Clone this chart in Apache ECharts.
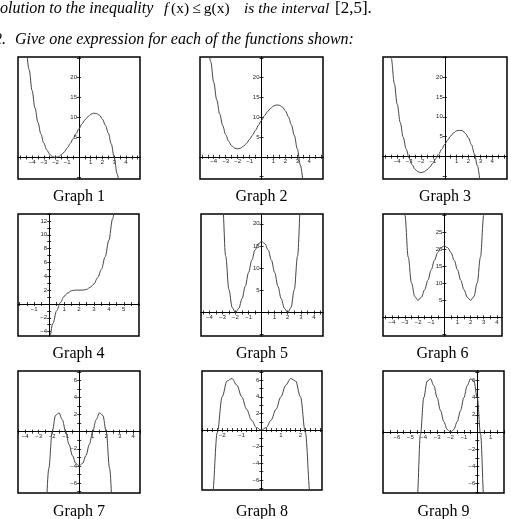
<!DOCTYPE html>
<html>
<head>
<meta charset="utf-8">
<script src="https://cdn.jsdelivr.net/npm/echarts@6/dist/echarts.min.js"></script>
<style>
  html, body { margin: 0; padding: 0; background: #fff; }
  #chart { width: 511px; height: 519px; }
</style>
</head>
<body>
<div id="chart"></div>
<script>
// curve points (x, y)
var g1x = [-4.5,-4.25,-4,-3.75,-3.5,-3.25,-3,-2.75,-2.5,-2.25,-2,-1.75,-1.5,-1.25,-1,-0.75,-0.5,-0.25,0,0.25,0.5,0.75,1,1.25,1.5,1.75,2,2.25,2.5,2.75,3,3.25,3.5];
var g1y = [28.1,22.0,16.8,12.4,8.8,5.9,3.6,1.9,0.8,0.2,0,0.2,0.7,1.4,2.4,3.5,4.7,6.0,7.2,8.4,9.4,10.2,10.8,11.1,11.0,10.6,9.6,8.1,6.1,3.4,0,-4.1,-9.1];

var g2x = [-4.5,-4.25,-4,-3.75,-3.5,-3.25,-3,-2.75,-2.5,-2.25,-2,-1.75,-1.5,-1.25,-1,-0.75,-0.5,-0.25,0,0.25,0.5,0.75,1,1.25,1.5,1.75,2,2.25,2.5,2.75,3,3.25,3.5];
var g2y = [30.1,24.0,18.8,14.4,10.8,7.9,5.6,3.9,2.8,2.2,2.0,2.2,2.7,3.4,4.4,5.5,6.7,8.0,9.2,10.4,11.4,12.2,12.8,13.1,13.0,12.6,11.6,10.1,8.1,5.4,2.0,-2.1,-7.1];

var g3x = [-4.75,-4.5,-4.25,-4,-3.75,-3.5,-3.25,-3,-2.75,-2.5,-2.25,-2,-1.75,-1.5,-1.25,-1,-0.75,-0.5,-0.25,0,0.25,0.5,0.75,1,1.25,1.5,1.75,2,2.25,2.5,2.75,3,3.25];
var g3y = [31.8,24.6,18.4,13.1,8.6,4.9,1.9,-0.4,-2.0,-3.2,-3.8,-4.0,-3.8,-3.3,-2.6,-1.6,-0.5,0.7,1.9,3.1,4.2,5.2,6.0,6.5,6.6,6.5,5.8,4.7,3.0,0.7,-2.3,-5.9,-10.4];

var g4x = [-0.25,0,0.25,0.5,0.75,1,1.25,1.5,1.75,2,2.25,2.5,2.75,3,3.25,3.5,3.75,4,4.25,4.5];
var g4y = [-8.3,-5.2,-2.8,-1.0,0.2,1.1,1.6,1.9,2.0,2.0,2.0,2.1,2.4,2.9,3.8,5.0,6.8,9.2,12.3,16.1];

var g5x = [-3.25,-3,-2.75,-2.5,-2.25,-2,-1.75,-1.5,-1.25,-1,-0.75,-0.5,-0.25,0,0.25,0.5,0.75,1,1.25,1.5,1.75,2,2.25,2.5,2.75,3,3.25];
var g5y = [43.1,25,12.7,5.1,1.1,0,0.9,3.1,5.9,9,11.8,14.1,15.5,16,15.5,14.1,11.8,9,5.9,3.1,0.9,0,1.1,5.1,12.7,25,43.1];

var g6x = [-3.25,-3,-2.75,-2.5,-2.25,-2,-1.75,-1.5,-1.25,-1,-0.75,-0.5,-0.25,0,0.25,0.5,0.75,1,1.25,1.5,1.75,2,2.25,2.5,2.75,3,3.25];
var g6y = [48.1,30,17.7,10.1,6.1,5,5.9,8.1,10.9,14,16.8,19.1,20.5,21,20.5,19.1,16.8,14,10.9,8.1,5.9,5,6.1,10.1,17.7,30,48.1];

var g7x = [-2.5,-2.25,-2,-1.75,-1.5,-1.25,-1,-0.75,-0.5,-0.25,0,0.25,0.5,0.75,1,1.25,1.5,1.75,2,2.25,2.5];
var g7y = [-11.8,-4.3,0,1.9,2.2,1.4,0,-1.5,-2.8,-3.7,-4,-3.7,-2.8,-1.5,0,1.4,2.2,1.9,0,-4.3,-11.8];

var g8x = [-2.75,-2.5,-2.25,-2,-1.75,-1.5,-1.25,-1,-0.75,-0.5,-0.25,0,0.25,0.5,0.75,1,1.25,1.5,1.75,2,2.25,2.5,2.75];
var g8y = [-19.4,-7.8,-0.3,4,5.9,6.2,5.4,4,2.5,1.2,0.3,0,0.3,1.2,2.5,4,5.4,6.2,5.9,4,-0.3,-7.8,-19.4];

var g9x = [-4.75,-4.5,-4.25,-4,-3.75,-3.5,-3.25,-3,-2.75,-2.5,-2.25,-2,-1.75,-1.5,-1.25,-1,-0.75,-0.5,-0.25,0,0.25,0.5,0.75];
var g9y = [-19.4,-7.8,-0.3,4,5.9,6.2,5.4,4,2.5,1.2,0.3,0,0.3,1.2,2.5,4,5.4,6.2,5.9,4,-0.3,-7.8,-19.4];

// tick labels
var xLabA = [-4,-3,-2,-1,1,2,3,4];
var yLabA = [5,10,15,20];
var xLab4 = [-1,1,2,3,4,5];
var yLab4 = [-4,-2,2,4,6,8,10,12];
var yLab6 = [5,10,15,20,25];
var yLab7 = [-6,-4,-2,2,4,6];
var xLab8 = [-2,-1,1,2];
var xLab9 = [-6,-5,-4,-3,-2,-1,1];

var titles = ["Graph 1","Graph 2","Graph 3","Graph 4","Graph 5","Graph 6","Graph 7","Graph 8","Graph 9"];

var graphs = [
  { x: g1x, y: g1y, xr: [-5.2, 5.2], yr: [-5.4, 25.2], xl: xLabA, yl: yLabA, xs: 0.5, ys: 5 },
  { x: g2x, y: g2y, xr: [-5.15, 5.15], yr: [-5.6, 25.2], xl: xLabA, yl: yLabA, xs: 0.5, ys: 5 },
  { x: g3x, y: g3y, xr: [-5.2, 5.24], yr: [-5.6, 25.0], xl: xLabA, yl: yLabA, xs: 0.5, ys: 5 },
  { x: g4x, y: g4y, xr: [-2.09, 6.02], yr: [-4.63, 13.0], xl: xLab4, yl: yLab4, xs: 0.5, ys: 1 },
  { x: g5x, y: g5y, xr: [-4.64, 4.7], yr: [-5.3, 22.2], xl: xLabA, yl: yLabA, xs: 0.5, ys: 5 },
  { x: g6x, y: g6y, xr: [-4.67, 4.39], yr: [-5.5, 30.4], xl: xLabA, yl: yLab6, xs: 0.5, ys: 5 },
  { x: g7x, y: g7y, xr: [-4.53, 4.5], yr: [-7.17, 7.1], xl: xLabA, yl: yLab7, xs: 0.5, ys: 1 },
  { x: g8x, y: g8y, xr: [-3.03, 3.1], yr: [-7.2, 7.1], xl: xLab8, yl: yLab7, xs: 0.25, ys: 1 },
  { x: g9x, y: g9y, xr: [-7.05, 2.0], yr: [-7.1, 7.1], xl: xLab9, yl: yLab7, xs: 0.5, ys: 1 }
];

// plot boxes: left, top, width, height
var boxes = [
  [18, 57, 122, 122], [200, 57, 123, 122], [383, 57, 124, 122],
  [18, 214, 121, 122], [201, 214, 122, 122], [383, 214, 119, 122],
  [18, 371, 122, 122], [202, 371, 120, 119], [383, 371, 121, 122]
];
var titleY = [197, 354, 512];

function steps(r, s) {
  var out = [];
  for (var v = Math.ceil(r[0] / s) * s; v <= r[1] + 1e-9; v += s) out.push(+v.toFixed(3));
  return out;
}
function fmt(v) { return v < 0 ? "\u2212" + (-v) : String(v); }

var dom = document.getElementById("chart");
var myChart = echarts.init(dom, null, { renderer: "canvas" });

var option = { animation: false, backgroundColor: "#fff", grid: [], xAxis: [], yAxis: [], series: [], graphic: [] };

graphs.forEach(function (g, i) {
  var b = boxes[i];
  option.grid.push({
    left: b[0], top: b[1], width: b[2], height: b[3],
    show: true, borderColor: "#000", borderWidth: 1.5, backgroundColor: "transparent"
  });
  var xt = steps(g.xr, g.xs), yt = steps(g.yr, g.ys);
  var lab = { fontSize: 6, color: "#222", fontFamily: "Liberation Sans", formatter: fmt };
  // where x=0 / y=0 fall inside the box, as fractions of it
  var fx = (0 - g.xr[0]) / (g.xr[1] - g.xr[0]);
  var fy = (0 - g.yr[0]) / (g.yr[1] - g.yr[0]);
  // two axes per direction, shifted onto the zero lines, so the ticks cross them
  var xOff = { bottom: -b[3] * fy, top: -b[3] * (1 - fy) };
  var yOff = { left: -b[2] * fx, right: -b[2] * (1 - fx) };
  ["bottom", "top"].forEach(function (pos) {
    option.xAxis.push({
      type: "value", gridIndex: i, position: pos, offset: xOff[pos], min: g.xr[0], max: g.xr[1],
      axisLine: { onZero: false, lineStyle: { color: "#000", width: 1 } },
      splitLine: { show: false },
      axisTick: { show: true, length: 2, lineStyle: { color: "#000", width: 0.8 }, customValues: xt },
      axisLabel: pos === "bottom"
        ? Object.assign({ show: true, margin: 2, customValues: g.xl }, lab)
        : { show: false }
    });
  });
  ["left", "right"].forEach(function (pos) {
    option.yAxis.push({
      type: "value", gridIndex: i, position: pos, offset: yOff[pos], min: g.yr[0], max: g.yr[1],
      axisLine: { onZero: false, lineStyle: { color: "#000", width: 1 } },
      splitLine: { show: false },
      axisTick: { show: true, length: 2, lineStyle: { color: "#000", width: 0.8 }, customValues: yt },
      axisLabel: pos === "left"
        ? Object.assign({ show: true, margin: 2, customValues: g.yl }, lab)
        : { show: false }
    });
  });
  var pts = [];
  for (var k = 0; k < g.x.length; k++) pts.push([g.x[k], g.y[k]]);
  option.series.push({
    type: "line", xAxisIndex: i * 2, yAxisIndex: i * 2, data: pts,
    smooth: 0.35, smoothMonotone: "x", showSymbol: false, clip: true,
    lineStyle: { color: "#444", width: 1 }
  });
  option.graphic.push({
    type: "text", x: b[0] + b[2] / 2, y: titleY[Math.floor(i / 3)],
    style: { text: titles[i], font: "16px 'Liberation Serif'", fill: "#000", align: "center", verticalAlign: "middle" }
  });
});

// the two cut-off lines of text above the plots
var it = "italic 15.5px 'Liberation Serif'";
var it2 = "italic 16px 'Liberation Serif'";
var up = "15.5px 'Liberation Serif'";
option.graphic.push(
  { type: "text", x: -8, y: 8.5, style: { text: "Solution to the inequality", font: it2, fill: "#000", verticalAlign: "middle" } },
  { type: "text", x: 164, y: 8.5, style: { text: "f", font: it, fill: "#000", verticalAlign: "middle" } },
  { type: "text", x: 171, y: 8.5, style: { text: "(x)\u2009\u2264\u2009g(x)", font: up, fill: "#000", verticalAlign: "middle" } },
  { type: "text", x: 244, y: 8.5, style: { text: "is the interval", font: it, fill: "#000", verticalAlign: "middle" } },
  { type: "text", x: 335, y: 8.5, style: { text: "[2,5].", font: "17px 'Liberation Serif'", fill: "#000", verticalAlign: "middle" } },
  { type: "text", x: -6, y: 39.5, style: { text: "2.", font: it2, fill: "#000", verticalAlign: "middle" } },
  { type: "text", x: 15, y: 39.5, style: { text: "Give one expression for each of the functions shown:", font: it2, fill: "#000", verticalAlign: "middle" } }
);

myChart.setOption(option);
</script>
</body>
</html>
